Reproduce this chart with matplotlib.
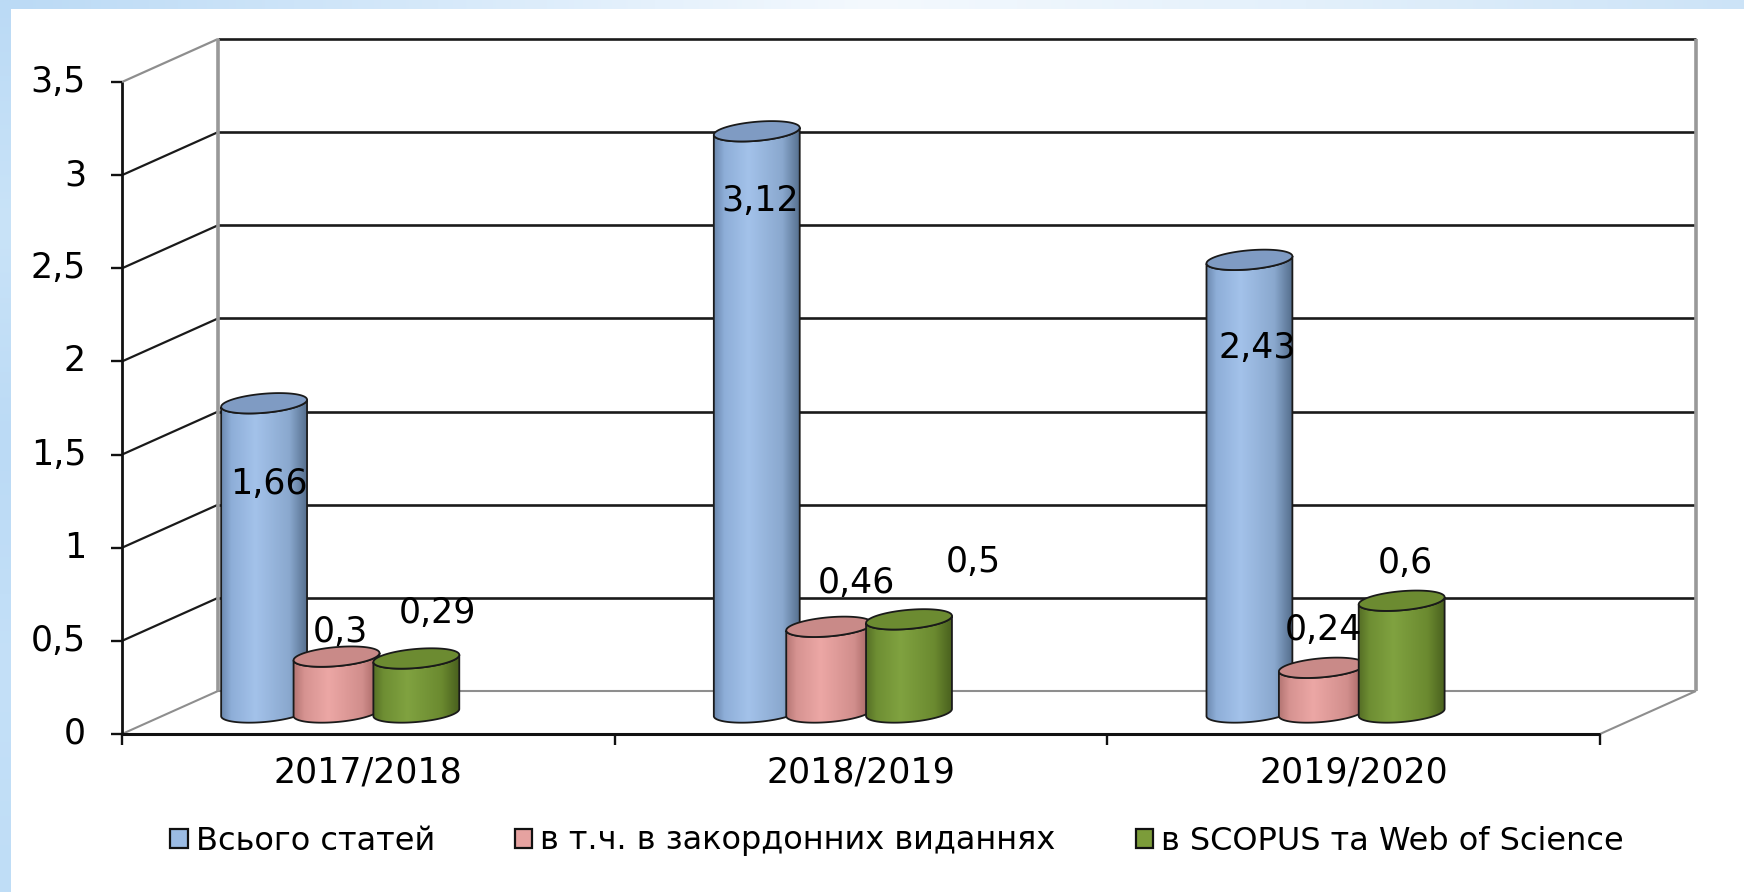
import numpy as np
import matplotlib.pyplot as plt
from matplotlib.patches import Polygon, Patch
from matplotlib.transforms import IdentityTransform
from matplotlib.colors import to_rgb

plt.rcParams['font.family'] = ['DejaVu Sans']

# data
categories = ["2017/2018", "2018/2019", "2019/2020"]
series_names = ["Всього статей", "в т.ч. в закордонних виданнях", "в SCOPUS та Web of Science"]
total = [1.66, 3.12, 2.43]
foreign = [0.3, 0.46, 0.24]
scopus = [0.29, 0.5, 0.6]
y_ticks = [0, 0.5, 1, 1.5, 2, 2.5, 3, 3.5]

# styles: side gradient (left -> right) + top cap colour, legend colour
series_shades = [
    ['#6C89AF', '#8EAED8', '#A3C2EA', '#8AA8CE', '#56708F'],
    ['#B57674', '#D69391', '#ECA7A5', '#D18E8C', '#9E5F5D'],
    ['#566F26', '#6E8E33', '#80A240', '#6B8A30', '#4A611E'],
]
cap_colors = ['#7F9BC3', '#C98A88', '#6C8B31']
legend_colors = ['#9BBBE3', '#E6A2A0', '#7C9C3A']

# layout (pixels / category units)
W, H = 1744, 892
DEPTH = np.array([96.0, 43.0])        # 3d depth of the box
SERIES_OFFSET = [-0.309, -0.162, 0.0]
BAR_W = 0.175
CAP_H = 9.5
CAP_TILT = 5
LABEL_NUDGE = [
    [(5, -81), (3, -70), (8, -88)],
    [(4, 25), (27, 44), (2, 38)],
    [(21, 45), (64, 57), (4, 38)],
]
FS = 25

fig = plt.figure(figsize=(W / 100, H / 100), dpi=100)

# light blue frame strips
bg = fig.add_axes([0, 0, 1, 1], zorder=-1)
bg.set_xlim(0, W)
bg.set_ylim(H, 0)
bg.axis('off')
top_strip = np.array([to_rgb(c) for c in ['#BBDAF5', '#D6E9FA', '#F4F9FE', '#E3F0FB', '#CCE3F7']])
top_img = np.stack([np.interp(np.linspace(0, 4, 200), np.arange(5), top_strip[:, k]) for k in range(3)], axis=-1)
bg.imshow(top_img[None, :, :], extent=(0, W, 9, 0), aspect='auto', interpolation='bilinear')
left_strip = np.array([to_rgb(c) for c in ['#BBDAF5', '#C9E3F8', '#BBDAF5', '#C4E0F8', '#BFDDF6']])
left_img = np.stack([np.interp(np.linspace(0, 4, 200), np.arange(5), left_strip[:, k]) for k in range(3)], axis=-1)
bg.imshow(left_img[:, None, :], extent=(0, 10, H, 0), aspect='auto', interpolation='bilinear')

ax = fig.add_axes([122 / W, (H - 734) / H, 1478 / W, 652 / H])
ax.set_xlim(0, len(categories))
ax.set_ylim(0, 3.5)
ax.axis('off')
ax.set_autoscale_on(False)

ID = IdentityTransform()


def px(x, v, d=0.0):
    return ax.transData.transform((x, v)) + d * DEPTH


def seg(p, q, color, lw, z=1):
    ax.plot([p[0], q[0]], [p[1], q[1]], color=color, lw=lw, transform=ID,
            clip_on=False, solid_capstyle='butt', zorder=z)


# walls and grid
ncat = len(categories)
for v in y_ticks:
    if v == 0:
        seg(px(0, v, 1), px(ncat, v, 1), '#8E8E8E', 1.5)
        seg(px(0, v), px(0, v, 1), '#8E8E8E', 1.5)
        seg(px(ncat, v), px(ncat, v, 1), '#8E8E8E', 1.5)
    else:
        seg(px(0, v, 1), px(ncat, v, 1), '#1A1A1A', 1.9)
        seg(px(0, v), px(0, v, 1), '#8E8E8E' if v == y_ticks[-1] else '#1A1A1A', 1.6)
seg(px(0, 0, 1), px(0, y_ticks[-1], 1), '#999999', 2.6)
seg(px(ncat, 0, 1), px(ncat, y_ticks[-1], 1), '#999999', 2.6)

# front axes
seg(px(0, 0), px(0, y_ticks[-1]), '#111111', 2.0, z=2)
seg(px(0, 0), px(ncat, 0), '#111111', 2.2, z=2)
for v in y_ticks:
    p = px(0, v)
    seg(p - [11, 0], p, '#111111', 1.7, z=2)
    ax.text(p[0] - 36, p[1], f"{v:g}".replace('.', ','), transform=ID,
            ha='right', va='center', fontsize=FS, color='black')
for i in range(ncat + 1):
    p = px(i, 0)
    seg(p, p - [0, 11], '#111111', 1.7, z=2)
for i, cat in enumerate(categories):
    p = px(i + 0.5, 0)
    ax.text(p[0], p[1] - 39, cat, transform=ID, ha='center', va='center',
            fontsize=FS, color='black')


def ellipse_pts(c, a, b, t, ang):
    ca, sa = np.cos(ang), np.sin(ang)
    x = a * np.cos(t)
    y = b * np.sin(t)
    return np.column_stack([c[0] + x * ca - y * sa, c[1] + x * sa + y * ca])


def shade(cols):
    cols = np.array([to_rgb(c) for c in cols])
    stops = [0, 0.12, 0.4, 0.8, 1]
    u = np.linspace(0, 1, 96)
    arr = np.stack([np.interp(u, stops, cols[:, k]) for k in range(3)], axis=-1)
    return arr[None, :, :]


def cylinder(xc, v, shades, cap, z):
    base = px(xc, 0, 0.5)
    top = px(xc, v, 0.5)
    a = (px(xc + BAR_W / 2, 0)[0] - px(xc - BAR_W / 2, 0)[0]) / 2
    ang = np.radians(CAP_TILT)
    t_low = np.linspace(np.pi, 2 * np.pi, 60)
    body = np.vstack([ellipse_pts(base, a, CAP_H, t_low, ang),
                      ellipse_pts(top, a, CAP_H, t_low[::-1], ang)])
    outline = Polygon(body, closed=True, transform=ID, facecolor='none',
                      edgecolor='#1A1A1A', lw=1.3, zorder=z + 0.2)
    ax.add_patch(outline)
    im = ax.imshow(shade(shades), extent=(body[:, 0].min(), body[:, 0].max(),
                                          body[:, 1].min(), body[:, 1].max()),
                   transform=ID, aspect='auto', interpolation='bilinear',
                   origin='lower', zorder=z)
    im.set_clip_path(outline)
    top_pts = ellipse_pts(top, a, CAP_H, np.linspace(0, 2 * np.pi, 120), ang)
    ax.add_patch(Polygon(top_pts, closed=True, transform=ID, facecolor=cap,
                         edgecolor='#1A1A1A', lw=1.3, zorder=z + 0.3))
    return top


for j, values in enumerate([total, foreign, scopus]):
    for i, v in enumerate(values):
        xc = i + 0.5 + SERIES_OFFSET[j]
        top = cylinder(xc, v, series_shades[j], cap_colors[j], 3 + j)
        dx, dy = LABEL_NUDGE[j][i]
        ax.text(top[0] + dx, top[1] + dy, f"{v:g}".replace('.', ','),
                transform=ID, ha='center', va='center', fontsize=FS,
                color='black', zorder=10)

handles = [Patch(facecolor=c, edgecolor='#111111', lw=1.6) for c in legend_colors]
fig.legend(handles, series_names, loc='center', bbox_to_anchor=(897 / W, (H - 841) / H),
           ncol=3, frameon=False, fontsize=23, handlelength=0.55, handleheight=0.55,
           handletextpad=0.25, columnspacing=2.5)

fig.savefig("out.png", dpi=100)
